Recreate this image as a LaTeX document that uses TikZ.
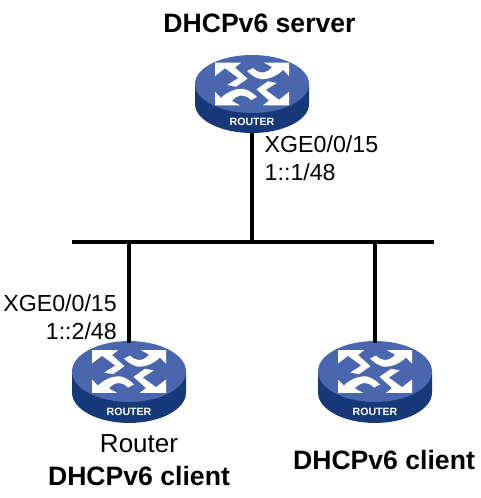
\documentclass[tikz,border=0pt]{standalone}
\usepackage{fontspec}
\setmainfont{Liberation Sans}
\usepackage{xcolor}
\usetikzlibrary{positioning, calc}
\definecolor{routertop}{HTML}{4A66AE}
\definecolor{routerside}{HTML}{17397A}

\begin{document}
\begin{tikzpicture}[
    x=1pt, y=1pt,
    link/.style={line width=4.6pt, black},
    grouplbl/.style={font=\fontsize{26.6}{30}\selectfont\bfseries, inner sep=0pt, text=black},
    namelbl/.style={font=\fontsize{26}{30}\selectfont, inner sep=0pt, text=black},
    portlbl/.style={font=\fontsize{23.2}{28}\selectfont, inner sep=0pt, text=black},
    routerbox/.style={minimum width=114pt, minimum height=78pt, inner sep=0pt},
    arrowa/.pic={
      \fill[white] (-37,21.3) -- (-11,21.3) -- (-17,16.5) -- (-4.5,5.3) -- (-16,-2.7) -- (-24.7,-1)
        -- (-13.7,6) -- (-27,15.7) -- (-37,8) -- cycle;
    },
    arrowb/.pic={
      \fill[white] (37,21.3) -- (37,8) -- (31,14) .. controls (25,8) and (16,4) .. (8,5)
        .. controls (3,6) and (-2,10) .. (-5,13) -- (1,16)
        .. controls (4,13) and (7,11.5) .. (10,11.5)
        .. controls (14,11.5) and (18,14) .. (20,17) -- (12,21.3) -- cycle;
    },
    router/.pic={
      \fill[routerside] (-57,0) -- (-57,-20) arc[start angle=180, end angle=360, x radius=57, y radius=29]
        -- (57,0) -- cycle;
      \fill[routertop] (0,0) ellipse[x radius=57, y radius=29];
      \pic {arrowa};
      \pic {arrowb};
      \pic[rotate=180] {arrowa};
      \pic[rotate=180] {arrowb};
      \node[font=\fontsize{10.6}{12}\selectfont\bfseries, text=white, inner sep=0pt] (-text) at (0,-38) {ROUTER};
      \node[routerbox] (-box) at (0,-10) {};
    },
  ]
    \useasboundingbox (0,0) rectangle (480,-498);

    % ── Routers ──────────────────────────────────
    \coordinate (busl) at (72,-242);
    \coordinate (busr) at (434,-242);
    \pic (server) at (252,-84) {router};
    \pic[yscale=1.05] (clienta) at (129,-371.5) {router};
    \pic[yscale=1.05] (clientb) at (375,-371.5) {router};

    % ── Links ────────────────────────────────────
    \draw[link] (busl) -- (busr);
    \draw[link] (server-box.south) -- (server-box.south |- busl);
    \draw[link] (clienta-box.north) -- (clienta-box.north |- busl);
    \draw[link] (clientb-box.north) -- (clientb-box.north |- busl);

    % ── Labels ───────────────────────────────────
    \node[grouplbl] (servername) at (259.5,-23) {DHCPv6 server};
    \node[portlbl, align=left, anchor=north west] (serverport) at (264.5,-135.5) {XGE0/0/15\\1::1/48};
    \node[portlbl, align=right, anchor=north east] (clientport) at (117,-294.5) {XGE0/0/15\\1::2/48};
    \node[namelbl] (clientaname) at (139,-444) {Router};
    \node[grouplbl, below=13pt of clientaname] (clientatype) {DHCPv6 client};
    \node[grouplbl] (clientbtype) at (384,-460) {DHCPv6 client};
  \end{tikzpicture}
\end{document}
